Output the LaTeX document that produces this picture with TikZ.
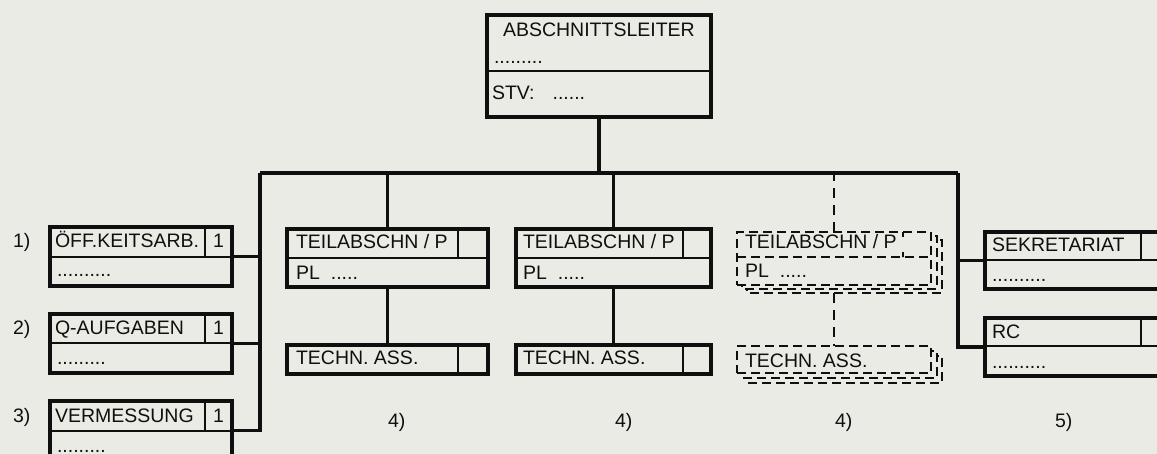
\documentclass[tikz,border=0pt]{standalone}
\usepackage{fontspec}
\setmainfont{Liberation Sans}
\definecolor{paper}{RGB}{235,235,229}
\definecolor{ink}{RGB}{15,15,15}
\begin{document}
\begin{tikzpicture}[x=1pt,y=-1pt,
  box/.style={draw=ink, line width=3.2pt, rectangle, inner sep=0pt, outer sep=0pt, anchor=north west},
  dbox/.style={draw=ink, fill=paper, line width=1.5pt, dash pattern=on 9pt off 5pt, rectangle, inner sep=0pt, outer sep=0pt, anchor=north west},
  shad/.style={draw=ink, fill=paper, line width=1.5pt, dash pattern=on 9pt off 5pt},
  div/.style={draw=ink, line width=1.6pt},
  ddiv/.style={draw=ink, line width=1.5pt, dash pattern=on 9pt off 5pt},
  conn/.style={draw=ink, line width=3.2pt},
  dconn/.style={draw=ink, line width=1.8pt, dash pattern=on 10pt off 7pt},
  txt/.style={anchor=base west, inner sep=0pt, outer sep=0pt, text=ink, font=\fontsize{19.5}{20}\selectfont},
]
\fill[paper] (0,0) rectangle (1157,454);
\useasboundingbox (0,0) rectangle (1157,454);
\clip (0,0) rectangle (1157,454);

% ---------- head box ----------
\node[box, minimum width=224pt, minimum height=102pt] (head) at (487,15) {};
\draw[div] (487,71) -- (711,71);
\node[txt] (headt) at (503,37) {ABSCHNITTSLEITER};
\node[txt] (headd) at (494,64) {.........};
\node[txt] (heads) at (492,100) {STV:\hspace{18pt}......};

% ---------- bus ----------
\coordinate (busL) at (260,173);
\coordinate (busR) at (958,173);
\draw[conn] (head.south) -- (head.south |- busL);
\draw[conn] (busL) -- (busR);

% ---------- left boxes ----------
\node[box, minimum width=182pt, minimum height=59pt] (b1) at (50,227) {};
\draw[div] (50,257) -- (232,257);
\draw[div] (205,227) -- (205,257);
\node[txt] (b1t) at (55,248) {ÖFF.KEITSARB.};
\node[txt] (b1n) at (213,248) {1};
\node[txt] (b1d) at (57,277) {..........};

\node[box, minimum width=182pt, minimum height=59pt] (b2) at (50,314) {};
\draw[div] (50,343) -- (232,343);
\draw[div] (205,314) -- (205,343);
\node[txt] (b2t) at (55,335) {Q-AUFGABEN};
\node[txt] (b2n) at (213,335) {1};
\node[txt] (b2d) at (57,365) {.........};

\node[box, minimum width=182pt, minimum height=59pt] (b3) at (50,401) {};
\draw[div] (50,431) -- (232,431);
\draw[div] (205,401) -- (205,431);
\node[txt] (b3t) at (55,422) {VERMESSUNG};
\node[txt] (b3n) at (213,422) {1};
\node[txt] (b3d) at (57,452) {.........};

\node[txt] (l1) at (13,248) {1)};
\node[txt] (l2) at (13,335) {2)};
\node[txt] (l3) at (13,422) {3)};

\draw[conn] (busL) |- (b3.east);
\draw[conn] (b1.east) -- (b1.east -| busL);
\draw[conn] (b2.east) -- (b2.east -| busL);

% ---------- Teilabschnitt 1 ----------
\node[box, minimum width=201pt, minimum height=58pt] (t1) at (287,229) {};
\draw[div] (287,258) -- (488,258);
\draw[div] (458,229) -- (458,258);
\node[txt] (t1t) at (296,249) {TEILABSCHN / P};
\node[txt] (t1p) at (296,280) {PL\hspace{11pt}.....};
\node[box, minimum width=201pt, minimum height=29pt] (a1) at (287,345) {};
\draw[div] (458,345) -- (458,374);
\node[txt] (a1t) at (296,364) {TECHN. ASS.};
\draw[conn] (t1.north) -- (t1.north |- busL);
\draw[conn] (t1.south) -- (a1.north);
\node[txt] (l4a) at (388,427) {4)};

% ---------- Teilabschnitt 2 ----------
\node[box, minimum width=195pt, minimum height=58pt] (t2) at (516,229) {};
\draw[div] (516,258) -- (711,258);
\draw[div] (683,229) -- (683,258);
\node[txt] (t2t) at (523,249) {TEILABSCHN / P};
\node[txt] (t2p) at (523,280) {PL\hspace{11pt}.....};
\node[box, minimum width=195pt, minimum height=29pt] (a2) at (516,345) {};
\draw[div] (683,345) -- (683,374);
\node[txt] (a2t) at (523,364) {TECHN. ASS.};
\draw[conn] (t2.north) -- (t2.north |- busL);
\draw[conn] (t2.south) -- (a2.north);
\node[txt] (l4b) at (615,427) {4)};

% ---------- Teilabschnitt 3 (dashed, stacked) ----------
\draw[shad] (747,240) rectangle (942,293);
\draw[shad] (742,236) rectangle (937,289);
\node[dbox, minimum width=194pt, minimum height=53pt] (t3) at (737,232) {};
\draw[ddiv] (737,257) -- (931,257);
\draw[ddiv, dash pattern=on 5pt off 15pt on 5pt off 0pt] (903,232) -- (903,257);
\node[txt] (t3t) at (745,249) {TEILABSCHN / P};
\node[txt] (t3p) at (745,278) {PL\hspace{11pt}.....};
\draw[shad] (747,356) rectangle (942,383);
\draw[shad] (742,351) rectangle (937,378);
\node[dbox, minimum width=194pt, minimum height=27pt] (a3) at (737,346) {};
\node[txt] (a3t) at (745,367) {TECHN. ASS.};
\draw[dconn] (t3.north) -- (t3.north |- busL);
\draw[dconn] (t3.south) ++(0,8) -- (a3.north);
\node[txt] (l4c) at (835,427) {4)};

% ---------- right boxes ----------
\node[box, minimum width=200pt, minimum height=57pt] (sek) at (985,232) {};
\draw[div] (985,260) -- (1185,260);
\draw[div] (1141,232) -- (1141,260);
\node[txt] (sekt) at (992,252) {SEKRETARIAT};
\node[txt] (sekd) at (992,282) {..........};

\node[box, minimum width=200pt, minimum height=58pt] (rc) at (985,318) {};
\draw[div] (985,346) -- (1185,346);
\draw[div] (1141,318) -- (1141,346);
\node[txt] (rct) at (992,338) {RC};
\node[txt] (rcd) at (992,368) {..........};

\draw[conn] (busR) |- (rc.west);
\draw[conn] (sek.west) -- (sek.west -| busR);
\node[txt] (l5) at (1055,427) {5)};
\end{tikzpicture}
\end{document}
